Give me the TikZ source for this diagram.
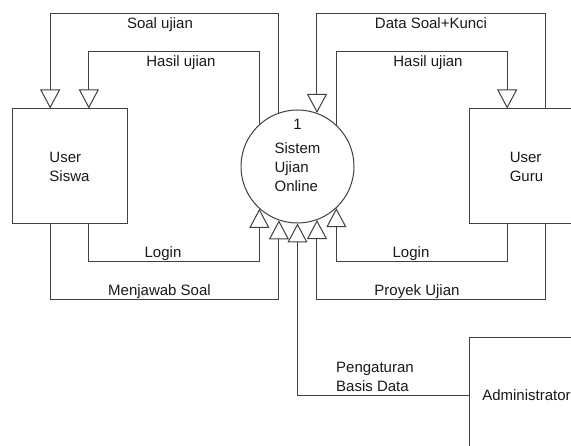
\documentclass[tikz,border=0pt]{standalone}
\usepackage{fontspec}
\setmainfont{Liberation Sans}
\usetikzlibrary{arrows.meta,calc}
\definecolor{linegray}{RGB}{64,64,64}
\definecolor{textgray}{RGB}{25,25,25}
\begin{document}
\begin{tikzpicture}[x=1pt,y=-1pt,
  font=\fontsize{15}{19}\selectfont, text=textgray,
  line/.style={draw=linegray, line width=1pt},
  flow/.style={line, -{Triangle[length=19pt,width=20pt,fill=white]}},
  entity/.style={line, minimum width=115pt, minimum height=115pt, inner sep=0pt, align=left},
  process/.style={line, circle, minimum size=113pt, inner sep=0pt},
  lbl/.style={inner sep=0pt, anchor=base}]

\clip (0,0) rectangle (571,446);

% external entities and the process
\node[entity] (siswa) at (69.5,166.5) {User\\Siswa};
\node[entity] (guru) at (526.5,166.5) {User\\Guru};
\node[entity] (admin) at (526.5,395.5) {Administrator};
\node[process] (proc) at (297.5,166.5) {};
\node[lbl] (proctext) at (297.5,130)
  {\begin{tabular}[t]{@{}l@{}}\multicolumn{1}{@{}c@{}}{1}\\[5pt]Sistem\\Ujian\\Online\end{tabular}};

% routing levels and attachment points on the entity boxes
\coordinate (top1) at (0,14);
\coordinate (top2) at (0,52);
\coordinate (bot1) at (0,262);
\coordinate (bot2) at (0,300);
\coordinate (s1) at ($(siswa.north west)!1/3!(siswa.north east)$);
\coordinate (s2) at ($(siswa.north west)!2/3!(siswa.north east)$);
\coordinate (g1) at ($(guru.north west)!1/3!(guru.north east)$);
\coordinate (g2) at ($(guru.north west)!2/3!(guru.north east)$);

% data flows
\draw[flow] (proc.109) |- (s1 |- top1) -- (s1);
\draw[flow] (proc.132) |- (s2 |- top2) -- (s2);
\draw[flow] (g2) |- (proc.70 |- top1) -- (proc.70);
\draw[flow] (proc.47) |- (g1 |- top2) -- (g1);
\draw[flow] (s2 |- siswa.south) |- (proc.-132 |- bot1) -- (proc.-132);
\draw[flow] (s1 |- siswa.south) |- (proc.-109 |- bot2) -- (proc.-109);
\draw[flow] (g1 |- guru.south) |- (proc.-47 |- bot1) -- (proc.-47);
\draw[flow] (g2 |- guru.south) |- (proc.-70 |- bot2) -- (proc.-70);
\draw[flow] (admin.west) -| (proc.south);

% flow labels
\node[lbl] (l1) at (160,29) {Soal ujian};
\node[lbl] (l2) at (181,67) {Hasil ujian};
\node[lbl] (l3) at (431,29) {Data Soal+Kunci};
\node[lbl] (l4) at (428,67) {Hasil ujian};
\node[lbl] (l5) at (163,258) {Login};
\node[lbl] (l6) at (159.5,296) {Menjawab Soal};
\node[lbl] (l7) at (411,258) {Login};
\node[lbl] (l8) at (417,296) {Proyek Ujian};
\node[lbl, anchor=base west] (l9) at (336,373)
  {\begin{tabular}[t]{@{}l@{}}Pengaturan\\Basis Data\end{tabular}};
\end{tikzpicture}
\end{document}
